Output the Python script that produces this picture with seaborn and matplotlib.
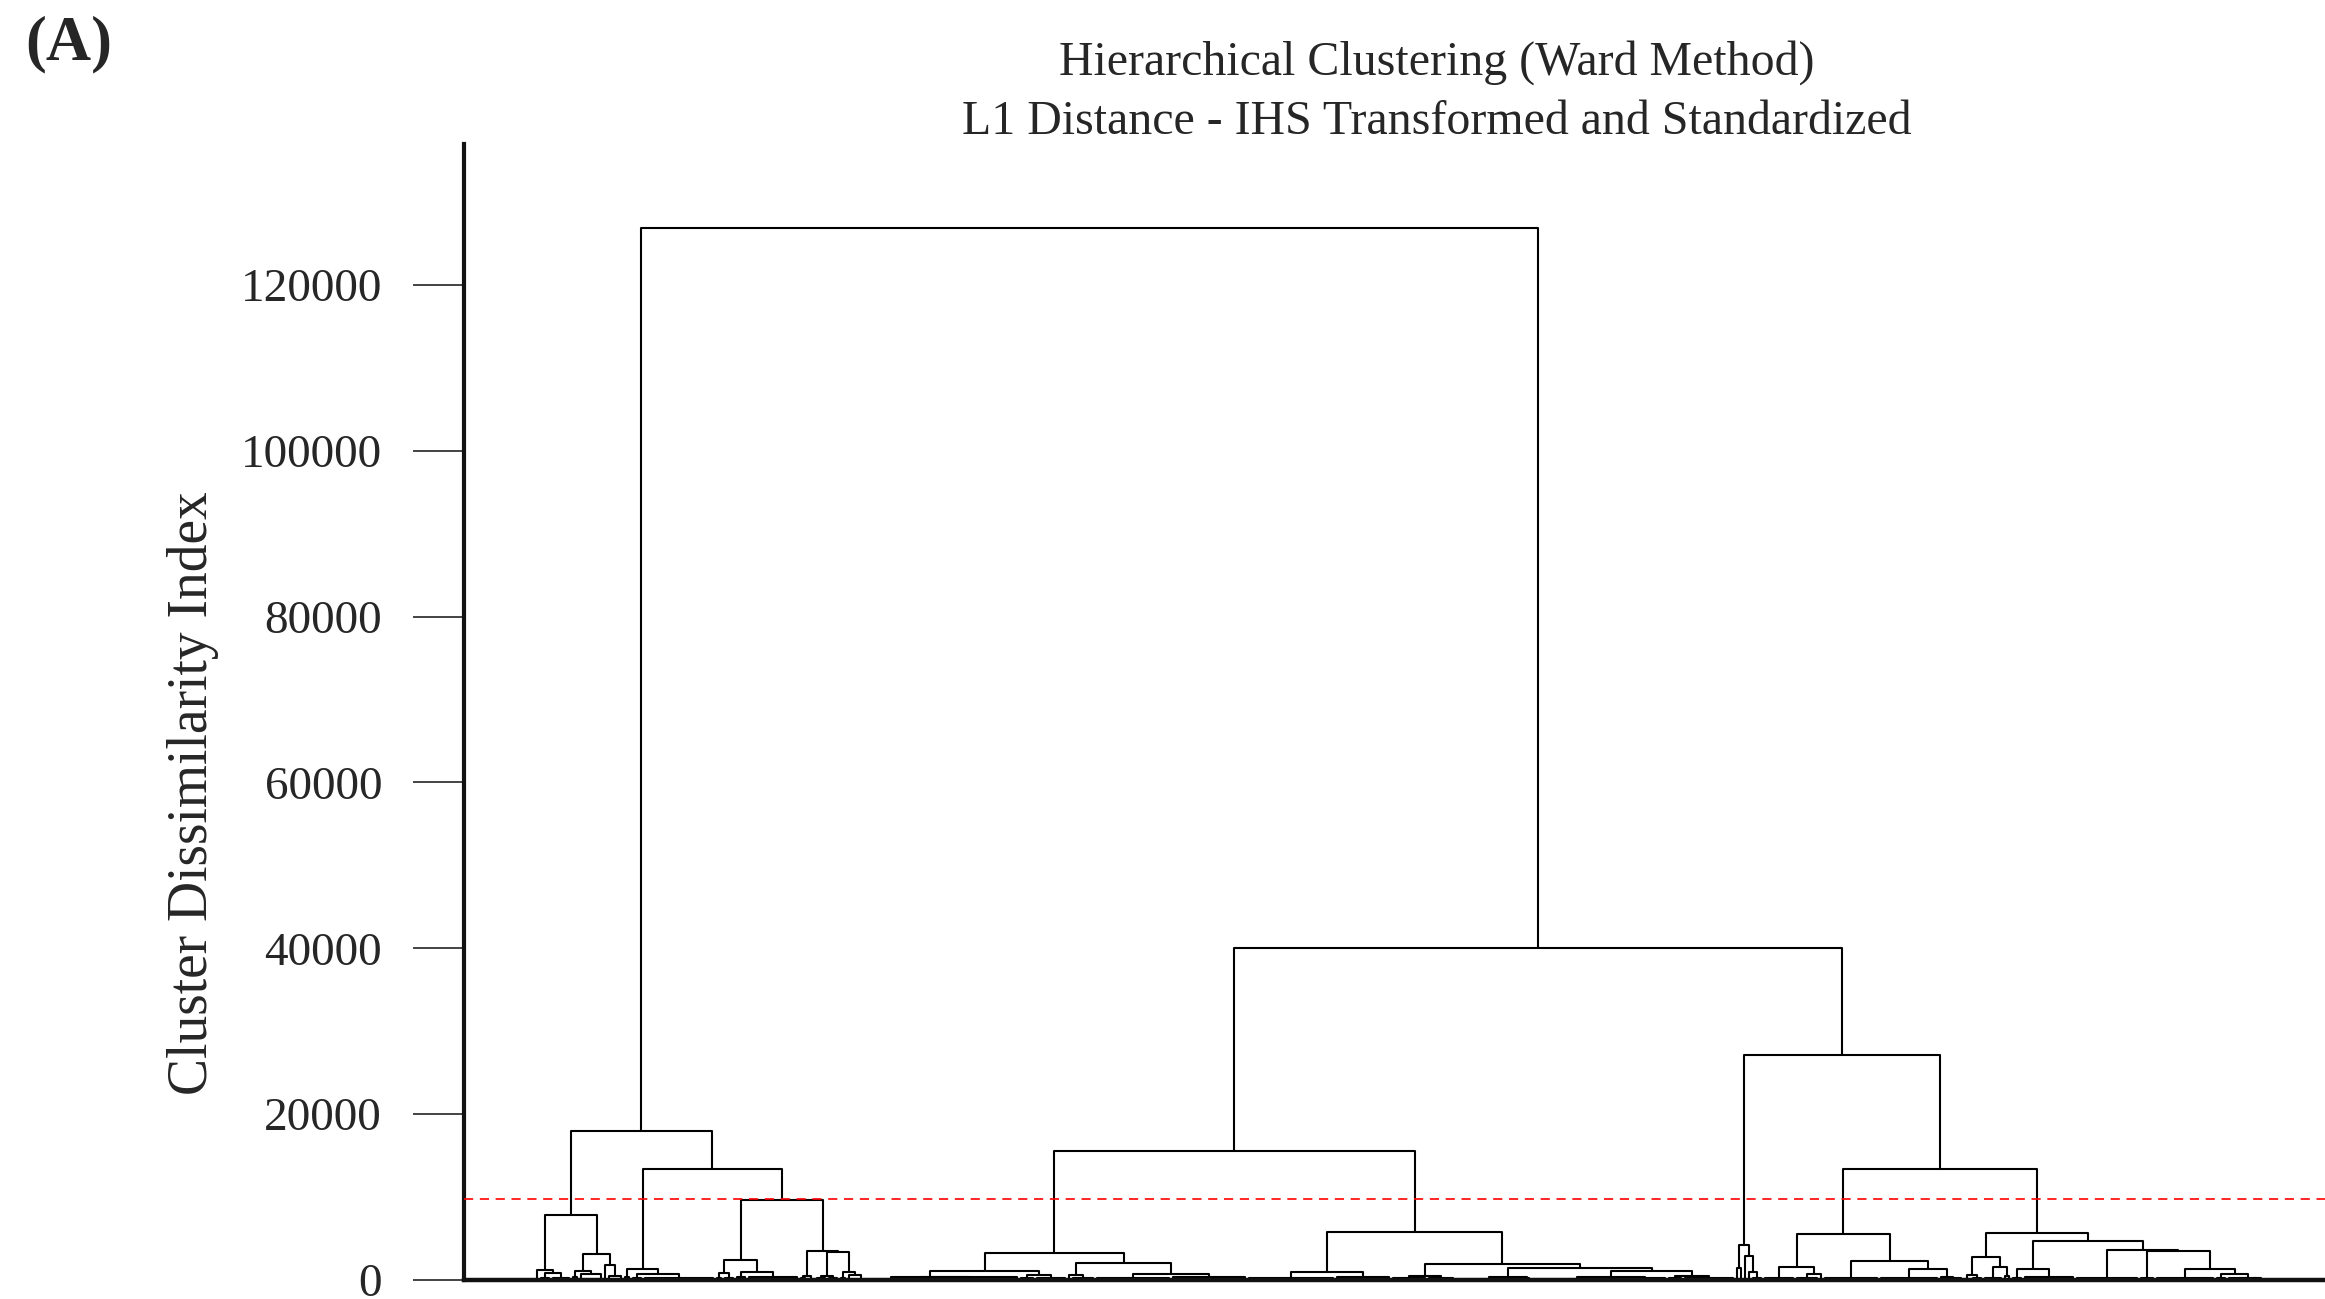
import matplotlib
matplotlib.use("Agg")
import matplotlib.pyplot as plt
import seaborn as sns
import pandas as pd

# Tree description.
#   (height, left, right)  -> a merge of two clusters at the given dissimilarity
#   (n_leaves, height)     -> a small group of n observations joined at a low height
#                             (n_leaves == 1 is a single observation)

left_branch = (17930,
    (7880,
        (1200, (1, 0), (880, (3, 300), (5, 250))),
        (3100,
            (1125, (2, 400), (6, 700)),
            (1770, (1, 0), (4, 500)))),
    (13350,
        (1330, (2, 350), (680, (3, 250), (18, 300))),
        (9600,
            (2410,
                (800, (2, 200), (3, 300)),
                (1000, (3, 350), (13, 400))),
            (3500,
                (480, (2, 200), (2, 150)),
                (3420,
                    (480, (3, 200), (3, 250)),
                    (1000, (2, 300), (4, 600)))))))

middle_branch = (15500,
    (3300,
        (1125,
            (400, (14, 150), (25, 350)),
            (600, (4, 250), (8, 300))),
        (2090,
            (600, (1, 0), (6, 250)),
            (680, (19, 250), (19, 400)))),
    (5800,
        (1000, (22, 200), (14, 400)),
        (1890,
            (480, (9, 200), (7, 250)),
            (1400,
                (400, (17, 150), (2, 200)),
                (1085,
                    (350, (23, 150), (11, 300)),
                    (480, (4, 200), (13, 250)))))))

right_branch = (27100,
    (4220,
        (1400, (1, 0), (1, 0)),
        (2900, (1, 0), (1000, (1, 0), (3, 300)))),
    (13350,
        (5550,
            (1570, (8, 200), (680, (6, 200), (1, 0))),
            (2330, (14, 250),
                (1330, (15, 250), (350, (1, 0), (5, 200))))),
        (5710,
            (2730,
                (560, (2, 150), (3, 250)),
                (1530, (5, 300), (2, 500))),
            (4740,
                (1290, (3, 250), (13, 400)),
                (3620, (16, 250),
                    (3500, (4, 200),
                        (1330, (15, 250),
                            (720, (3, 250), (300, (6, 200), (3, 200))))))))))

split_height = 40085
root_height = 126870
cut_height = 9800

y_ticks = [0, 20000, 40000, 60000, 80000, 100000, 120000]
title_lines = ["Hierarchical Clustering (Ward Method)",
               "L1 Distance - IHS Transformed and Standardized"]
y_label = "Cluster Dissimilarity Index"
panel_tag = "(A)"

tree = (root_height, left_branch, (split_height, middle_branch, right_branch))


def layout(node, start, links):
    """Place leaves left to right and collect the U-shaped links."""
    if len(node) == 2:
        n, h = node
        if n == 1:
            return float(start), 0.0, start + 1
        a, b = start, start + n - 1
        links.append(((a, a, b, b), (0, h, h, 0)))
        return (a + b) / 2.0, float(h), start + n
    h, left, right = node
    xl, hl, nxt = layout(left, start, links)
    xr, hr, nxt = layout(right, nxt, links)
    links.append(((xl, xl, xr, xr), (hl, h, h, hr)))
    return (xl + xr) / 2.0, float(h), nxt


links = []
_, _, n_leaves = layout(tree, 0, links)

rows = []
for k, (xs, ys) in enumerate(links):
    for order, (x, y) in enumerate(zip(xs, ys)):
        rows.append({"link": k, "order": order, "x": x, "y": y})
df = pd.DataFrame(rows)

sns.set_theme(style="ticks")
plt.rcParams["font.family"] = ["Liberation Serif", "DejaVu Serif"]
plt.rcParams["axes.edgecolor"] = "#111111"

W, H = 2325, 1299
fig = plt.figure(figsize=(W / 100, H / 100), dpi=100)
ax_left, ax_right, ax_top, ax_bottom = 464, 2410, 144, 1280
ax = fig.add_axes([ax_left / W, 1 - ax_bottom / H,
                   (ax_right - ax_left) / W, (ax_bottom - ax_top) / H])

sns.lineplot(data=df, x="x", y="y", units="link", estimator=None, sort=False,
             color="black", linewidth=1.5, ax=ax, legend=False)

ax.axhline(cut_height, color="red", linewidth=1.2, linestyle=(0, (5.5, 4)),
           zorder=3)

# leaves sit at 0..n-1; spacing of 4 px with the first leaf 73 px right of the axis
leaf_px = 4.0
ax.set_xlim(-(537 - ax_left) / leaf_px, (ax_right - 537) / leaf_px)
ax.set_ylim(0, 137000)

ax.set_yticks(y_ticks)
ax.set_yticklabels([str(t) for t in y_ticks], fontsize=34)
ax.set_xticks([])
ax.set_xlabel("")
ax.tick_params(axis="y", length=37, width=1.1, pad=22, color="#111111")

sns.despine(ax=ax)
ax.spines["left"].set_linewidth(3)
ax.spines["bottom"].set_linewidth(3.2)

ax.set_ylabel(y_label, fontsize=40)
ax.yaxis.label.set_va("center")
ax.yaxis.set_label_coords((193 - ax_left) / (ax_right - ax_left),
                          (ax_bottom - 793) / (ax_bottom - ax_top))

ax.set_title("\n".join(title_lines), fontsize=34.5, pad=2, linespacing=1.44)

fig.text(25 / W, 1 - 44 / H, panel_tag, fontsize=45, fontweight="bold",
         ha="left", va="center")

fig.savefig("out.png", dpi=100)
